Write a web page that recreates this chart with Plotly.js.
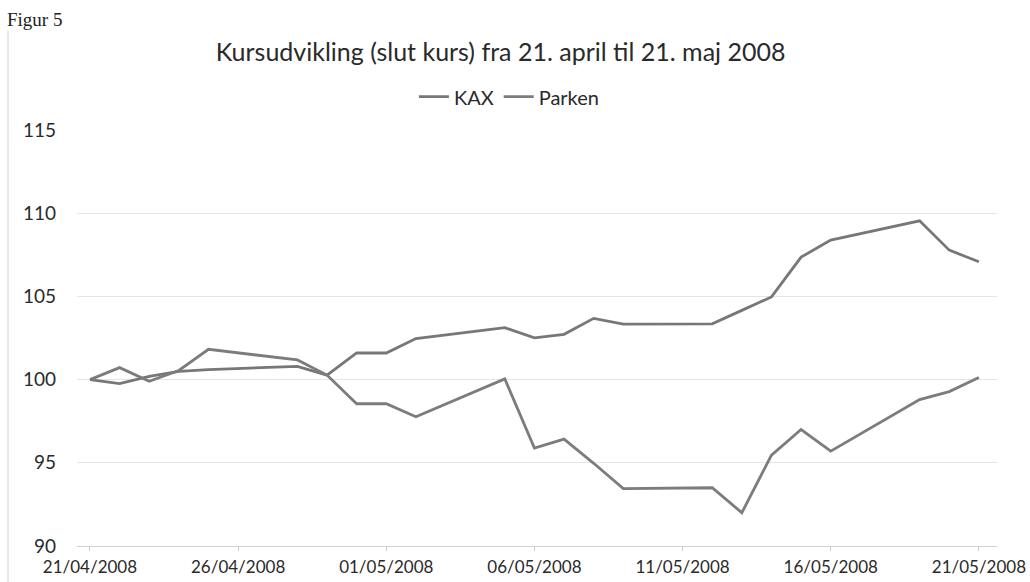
<!DOCTYPE html>
<html>
<head>
<meta charset="utf-8">
<script src="https://cdn.plot.ly/plotly-3.0.1.min.js"></script>
<style>html,body{margin:0;padding:0;background:#fff;}#chart{width:1030px;height:582px;}</style>
</head>
<body>
<div id="chart"></div>
<script>
var dates = ['2008-04-21','2008-04-22','2008-04-23','2008-04-24','2008-04-25','2008-04-28','2008-04-29','2008-04-30','2008-05-01','2008-05-02','2008-05-05','2008-05-06','2008-05-07','2008-05-08','2008-05-09','2008-05-12','2008-05-13','2008-05-14','2008-05-15','2008-05-16','2008-05-19','2008-05-20','2008-05-21'];
var kax = [100, 99.76, 100.2, 100.5, 100.6, 100.8, 100.27, 101.6, 101.6, 102.47, 103.12, 102.51, 102.72, 103.68, 103.33, 103.35, 104.16, 104.97, 107.36, 108.38, 109.54, 107.78, 107.08];
var parken = [100, 100.72, 99.9, 100.55, 101.82, 101.18, 100.27, 98.55, 98.55, 97.77, 100.04, 95.89, 96.42, 94.97, 93.45, 93.5, 92.0, 95.46, 97.0, 95.7, 98.8, 99.28, 100.13];
var yTicks = [90, 95, 100, 105, 110, 115];
var titleText = 'Kursudvikling (slut kurs) fra 21. april til 21. maj 2008';

var font = 'Lato, Carlito, "Open Sans", sans-serif';
var traces = [
  {x: dates, y: kax, name: 'KAX', type: 'scatter', mode: 'lines', line: {color: '#777777', width: 2.8}},
  {x: dates, y: parken, name: 'Parken', type: 'scatter', mode: 'lines', line: {color: '#7c7c7c', width: 2.8}}
];
var layout = {
  width: 1030, height: 582,
  paper_bgcolor: '#ffffff', plot_bgcolor: '#ffffff',
  margin: {l: 77, r: 33, t: 130, b: 36, autoexpand: false},
  font: {family: font, size: 19, color: '#2a2a2a'},
  title: {text: titleText, font: {family: font, size: 25, color: '#2a2a2a'}, x: 0.486, xanchor: 'center', y: 0.911, yanchor: 'middle', yref: 'container'},
  showlegend: true,
  legend: {orientation: 'h', x: 0.47, xanchor: 'center', y: 1.08, yanchor: 'middle', font: {family: font, size: 20, color: '#2a2a2a'}, itemwidth: 30, tracegroupgap: 0, bgcolor: 'rgba(0,0,0,0)'},
  xaxis: {
    type: 'date', automargin: false,
    range: ['2008-04-20 13:30', '2008-05-21 14:40'],
    tick0: '2008-04-21', dtick: 5 * 86400000, tickformat: '%d/%m/%Y',
    showgrid: false, zeroline: false,
    showline: true, linecolor: '#cfcfcf', linewidth: 1,
    ticks: 'outside', ticklen: 4, tickcolor: '#cfcfcf',
    ticklabelstandoff: 2,
    tickfont: {family: font, size: 17, color: '#2a2a2a'}
  },
  yaxis: {
    range: [90, 115], tickvals: yTicks, ticktext: yTicks.map(String),
    showgrid: true, gridcolor: '#e6e6e6', gridwidth: 1,
    zeroline: false, showline: false, ticks: '',
    ticklabelstandoff: 20,
    tickfont: {family: font, size: 19, color: '#2a2a2a'}
  },
  annotations: [
    {text: 'Figur 5', xref: 'paper', yref: 'paper', x: -0.078, y: 1.266, xanchor: 'left', yanchor: 'middle', showarrow: false, font: {family: '"Liberation Serif", "DejaVu Serif", serif', size: 19, color: '#222'}}
  ],
  shapes: [
    {type: 'line', xref: 'paper', yref: 'paper', x0: -0.075, x1: -0.075, y0: -0.09, y1: 1.24, line: {color: '#d4d4d4', width: 1}}
  ]
};
Plotly.newPlot('chart', traces, layout, {displayModeBar: false, staticPlot: true});
</script>
</body>
</html>
